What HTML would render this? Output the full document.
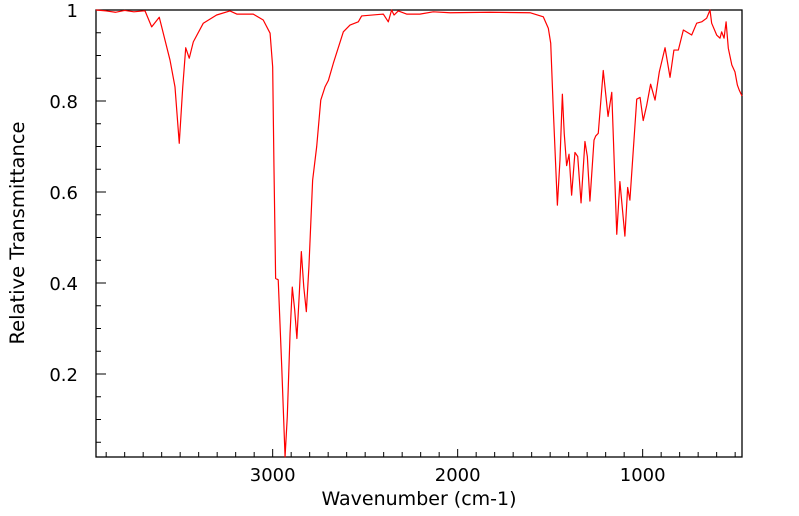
<!DOCTYPE html>
<html><head><meta charset="utf-8"><style>
html,body{margin:0;padding:0;background:#fff;width:799px;height:516px;overflow:hidden}
svg text{font-family:"DejaVu Sans","Liberation Sans",sans-serif;fill:#000}
</style></head><body>
<svg id="chart" width="799" height="516">
<g id="axes"></g>
<g id="series"></g>
<text x="419" y="505" text-anchor="middle" font-size="19">Wavenumber (cm-1)</text>
<text transform="translate(24,233) rotate(-90)" text-anchor="middle" font-size="19.5">Relative Transmittance</text>
</svg>
<script>
const wavenumbers=[3955,3900,3850,3800,3750,3700,3690,3654,3613,3555,3528,3505,3486,3470,3451,3429,3375,3303,3231,3194,3105,3051,3014,3000,2993,2984,2970,2951,2933,2921,2906,2894,2881,2869,2856,2845,2832,2818,2804,2784,2762,2740,2717,2699,2672,2618,2582,2537,2519,2402,2375,2357,2344,2321,2276,2204,2132,2041,1825,1609,1537,1510,1497,1483,1461,1447,1434,1424,1411,1398,1384,1366,1351,1333,1312,1299,1285,1263,1254,1240,1213,1187,1167,1140,1123,1096,1081,1069,1032,1014,997,978,957,933,910,879,852,831,807,780,735,708,681,654,636,627,600,582,573,560,549,537,518,501,488,477,463];
const transmittance=[1.0,0.998,0.995,0.999,0.996,0.998,0.998,0.963,0.984,0.89,0.831,0.707,0.831,0.917,0.894,0.93,0.971,0.989,0.998,0.991,0.991,0.978,0.949,0.875,0.656,0.41,0.407,0.216,0.018,0.106,0.289,0.391,0.341,0.278,0.377,0.469,0.392,0.337,0.436,0.626,0.7,0.802,0.831,0.845,0.883,0.952,0.967,0.974,0.987,0.991,0.974,1.0,0.989,0.998,0.991,0.991,0.996,0.994,0.995,0.994,0.985,0.96,0.927,0.78,0.571,0.67,0.815,0.729,0.658,0.683,0.593,0.687,0.678,0.576,0.711,0.678,0.58,0.714,0.723,0.729,0.867,0.766,0.819,0.507,0.623,0.503,0.61,0.582,0.804,0.808,0.757,0.791,0.837,0.802,0.864,0.917,0.852,0.912,0.912,0.956,0.945,0.971,0.974,0.982,1.0,0.971,0.945,0.938,0.952,0.938,0.974,0.916,0.879,0.864,0.835,0.823,0.811];
const xTickLabels=[3000,2000,1000];
const yTickLabels=[0.2,0.4,0.6,0.8,1];
const X0=96,X1=742,Y0=10,Y1=457,WMAX=3955,WMIN=463,TMIN=0.0176,TMAX=1;
const NS="http://www.w3.org/2000/svg";
function xs(w){return X0+(WMAX-w)/(WMAX-WMIN)*(X1-X0);}
function ys(t){return Y1-(t-TMIN)/(TMAX-TMIN)*(Y1-Y0);}
function mk(tag,attrs,parent){const e=document.createElementNS(NS,tag);for(const k in attrs)e.setAttribute(k,attrs[k]);parent.appendChild(e);return e;}
const axes=document.getElementById('axes');
const frame=mk('rect',{x:X0,y:Y0,width:X1-X0,height:Y1-Y0,fill:'none',stroke:'#000','stroke-width':1.3},axes);


for(let w=3900;w>=WMIN;w-=100){
  const major=w%1000===0;const x=xs(w);
  const t=mk('line',{x1:x,x2:x,y1:Y1,y2:Y1-(major?8:5),stroke:'#000','stroke-width':1},axes);
  
  
}
xTickLabels.forEach(v=>{
  const t=mk('text',{x:xs(v),y:481,'text-anchor':'middle','font-size':18},axes);t.textContent=v;
  
  
});
for(let i=1;i<=20;i++){
  const v=i*0.05;if(v<TMIN)continue;const major=i%4===0;const y=ys(v);
  const t=mk('line',{x1:X0,x2:X0+(major?10:5),y1:y,y2:y,stroke:'#000','stroke-width':1},axes);
  
  
}
yTickLabels.forEach(v=>{
  const t=mk('text',{x:78,y:ys(v)+7,'text-anchor':'end','font-size':18},axes);t.textContent=v;
  
  
});
const pts=wavenumbers.map((w,i)=>xs(w).toFixed(2)+','+ys(transmittance[i]).toFixed(2)).join(' ');
const line=mk('polyline',{points:pts,fill:'none',stroke:'#ff0000','stroke-width':1.2,'stroke-linejoin':'round'},document.getElementById('series'));


</script>
</body></html>
